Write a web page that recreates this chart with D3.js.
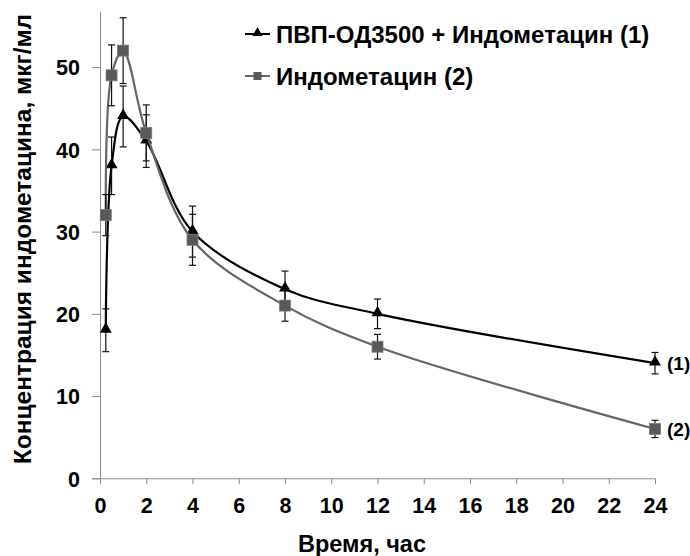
<!DOCTYPE html>
<html>
<head>
<meta charset="utf-8">
<script src="https://cdn.jsdelivr.net/npm/d3@7/dist/d3.min.js"></script>
<style>
  body { margin: 0; background: #fff; }
  svg text { font-family: "Liberation Sans", Arial, sans-serif; font-weight: bold; fill: #000; }
</style>
</head>
<body>
<div id="chart"></div>
<script>
const times = [0.25, 0.5, 1, 2, 4, 8, 12, 24];
const conc1 = [18, 38, 44, 41, 30, 23, 20, 14];
const err1 = [2.6, 3.5, 3.7, 3.2, 3.1, 2.2, 1.8, 1.3];
const conc2 = [32, 49, 52, 42, 29, 21, 16, 6];
const err2 = [2.5, 3.7, 4.0, 3.4, 3.1, 1.9, 1.5, 1.05];
const xTicks = [0, 2, 4, 6, 8, 10, 12, 14, 16, 18, 20, 22, 24];
const yTicks = [0, 10, 20, 30, 40, 50];
const names = ['ПВП-ОД3500 + Индометацин (1)', 'Индометацин (2)'];
const endLabels = ['(1)', '(2)'];

const width = 690, height = 556;
const svg = d3.select('#chart').append('svg')
  .attr('width', width)
  .attr('height', height);

const x = d3.scaleLinear().domain([0, 24]).range([100, 655]);
const y = d3.scaleLinear().domain([0, 56.7]).range([478.3, 12]);

const axisColor = '#8c8c8c';

// axes
const xAxis = svg.append('g')
  .attr('transform', `translate(0,${y(0)})`)
  .call(d3.axisBottom(x).tickValues(xTicks).tickSize(6).tickPadding(13).tickSizeOuter(0));
xAxis.select('.domain').attr('stroke', axisColor).attr('d', `M${x(0) - 8},0.5H${x(24)}`);
xAxis.selectAll('.tick line').attr('stroke', axisColor);
xAxis.selectAll('.tick text').style('font-size', '21.5px');

const yAxis = svg.append('g')
  .attr('transform', `translate(${x(0)},0)`)
  .call(d3.axisLeft(y).tickValues(yTicks).tickSize(8).tickPadding(12).tickSizeOuter(0));
yAxis.select('.domain').attr('stroke', axisColor).attr('d', `M0.5,${y(0)}V12`);
yAxis.selectAll('.tick line').attr('stroke', axisColor);
yAxis.selectAll('.tick text').style('font-size', '21.5px').attr('dy', '0.36em');

// axis titles
svg.append('text')
  .attr('x', 362).attr('y', 552)
  .attr('text-anchor', 'middle')
  .style('font-size', '23.5px')
  .text('Время, час');

svg.append('text')
  .attr('transform', 'translate(31,239) rotate(-90)')
  .attr('text-anchor', 'middle')
  .style('font-size', '24.5px')
  .text('Концентрация индометацина, мкг/мл');

const series = [
  { vals: conc1, errs: err1, color: '#000', marker: 'tri' },
  { vals: conc2, errs: err2, color: '#666', marker: 'sq' }
];

const line = d3.line()
  .x(d => x(d.t))
  .y(d => y(d.v))
  .curve(d3.curveCatmullRom.alpha(0.5));

const tri = d3.symbol().type(d3.symbolTriangle).size(62);

series.forEach((s, k) => {
  const pts = times.map((t, i) => ({ t: t, v: s.vals[i], e: s.errs[i] }));
  const g = svg.append('g');

  g.append('path')
    .attr('d', line(pts))
    .attr('fill', 'none')
    .attr('stroke', s.color)
    .attr('stroke-width', 2.2);

  // error bars
  const eb = g.selectAll('.eb').data(pts).enter().append('g');
  eb.append('line')
    .attr('x1', d => x(d.t)).attr('x2', d => x(d.t))
    .attr('y1', d => y(d.v + d.e)).attr('y2', d => y(d.v - d.e))
    .attr('stroke', '#111').attr('stroke-width', 1.2);
  [1, -1].forEach(sg => {
    eb.append('line')
      .attr('x1', d => x(d.t) - 3.5).attr('x2', d => x(d.t) + 3.5)
      .attr('y1', d => y(d.v + sg * d.e)).attr('y2', d => y(d.v + sg * d.e))
      .attr('stroke', '#111').attr('stroke-width', 1.2);
  });

  if (s.marker === 'tri') {
    g.selectAll('.m').data(pts).enter().append('path')
      .attr('d', tri)
      .attr('transform', d => `translate(${x(d.t)},${y(d.v) - 1})`)
      .attr('fill', '#000');
  } else {
    g.selectAll('.m').data(pts).enter().append('rect')
      .attr('x', d => x(d.t) - 5.5).attr('y', d => y(d.v) - 5.5)
      .attr('width', 11).attr('height', 11)
      .attr('fill', '#595959')
      .attr('stroke', '#7a7a7a').attr('stroke-width', 0.8);
  }

  // label at the last point
  svg.append('text')
    .attr('x', x(24) + 12).attr('y', y(s.vals[s.vals.length - 1]))
    .attr('dy', '0.35em')
    .style('font-size', '19px')
    .text(endLabels[k]);
});

// legend
const legend = svg.append('g');
const legendY = [34, 76];
series.forEach((s, k) => {
  const lg = legend.append('g').attr('transform', `translate(245,${legendY[k]})`);
  lg.append('line')
    .attr('x1', 0).attr('x2', 25).attr('y1', 0).attr('y2', 0)
    .attr('stroke', s.color).attr('stroke-width', 2);
  if (s.marker === 'tri') {
    lg.append('path').attr('d', d3.symbol().type(d3.symbolTriangle).size(45))
      .attr('transform', 'translate(12.5,-1)').attr('fill', '#000');
  } else {
    lg.append('rect').attr('x', 8.5).attr('y', -4).attr('width', 8).attr('height', 8)
      .attr('fill', '#595959');
  }
  lg.append('text')
    .attr('x', 31).attr('y', 0).attr('dy', '0.36em')
    .style('font-size', '24px')
    .text(names[k]);
});
</script>
</body>
</html>
